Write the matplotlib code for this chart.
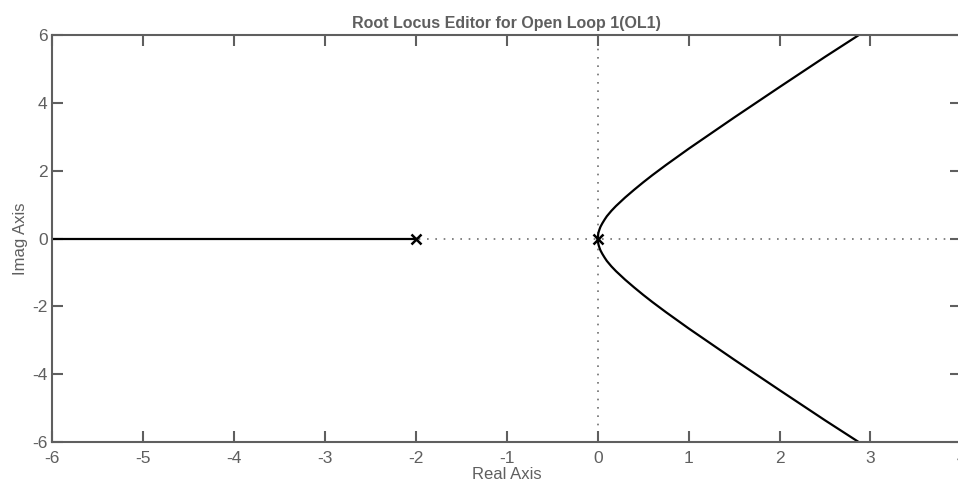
import matplotlib.pyplot as plt

plt.rcParams['font.family'] = ['Liberation Sans', 'DejaVu Sans']
plt.rcParams['axes.unicode_minus'] = False

# poles of the open loop (real, imag)
pole_re = [-2.0, 0.0]
pole_im = [0.0, 0.0]

# real-axis branch (from the pole at -2 to the left edge)
real_branch_x = [-6.0, -2.0]
real_branch_y = [0.0, 0.0]

# complex branch, upper half
branch_x = [0.0, 0.005, 0.01, 0.02, 0.03, 0.05, 0.075, 0.1, 0.15, 0.2, 0.3, 0.4,
            0.5, 0.6, 0.75, 1.0, 1.25, 1.5, 2.0, 2.5, 2.87]
branch_y = [0.0, 0.14, 0.2, 0.28, 0.35, 0.45, 0.56, 0.66, 0.82, 0.96, 1.21, 1.44,
            1.66, 1.87, 2.17, 2.65, 3.11, 3.57, 4.47, 5.36, 6.0]
branch_y_low = [-v for v in branch_y]

grey = '#5f5f5f'

fig = plt.figure(figsize=(9.58, 4.82), dpi=100)
ax = fig.add_axes([0.0547, 0.083, 0.9488, 0.844])

# dotted axis lines
ax.axhline(0, color='#707070', lw=1.2, ls=(0, (1, 4)), zorder=1)
ax.axvline(0, color='#707070', lw=1.2, ls=(0, (1, 4)), zorder=1)

ax.plot(real_branch_x, real_branch_y, color='black', lw=1.6, zorder=2)
ax.plot(branch_x, branch_y, color='black', lw=1.6, zorder=2)
ax.plot(branch_x, branch_y_low, color='black', lw=1.6, zorder=2)
ax.plot(pole_re, pole_im, 'x', color='black', ms=7, mew=1.8, zorder=3)

ax.set_xlim(-6, 4)
ax.set_ylim(-6, 6)
ax.set_xticks(range(-6, 5))
ax.set_yticks(range(-6, 7, 2))

for s in ax.spines.values():
    s.set_color(grey)
    s.set_linewidth(1.5)
ax.tick_params(direction='in', length=8, width=1.5, color=grey,
               labelcolor=grey, labelsize=12.5, top=True, right=True)
ax.tick_params(axis='x', pad=6.5)

ax.set_title('Root Locus Editor for Open Loop 1(OL1)', fontsize=11.5,
             fontweight='bold', color=grey, pad=5)
ax.set_xlabel('Real Axis', fontsize=12, color=grey, labelpad=1)
ax.set_ylabel('Imag Axis', fontsize=12, color=grey, labelpad=3)

fig.savefig('out.png', dpi=100)
